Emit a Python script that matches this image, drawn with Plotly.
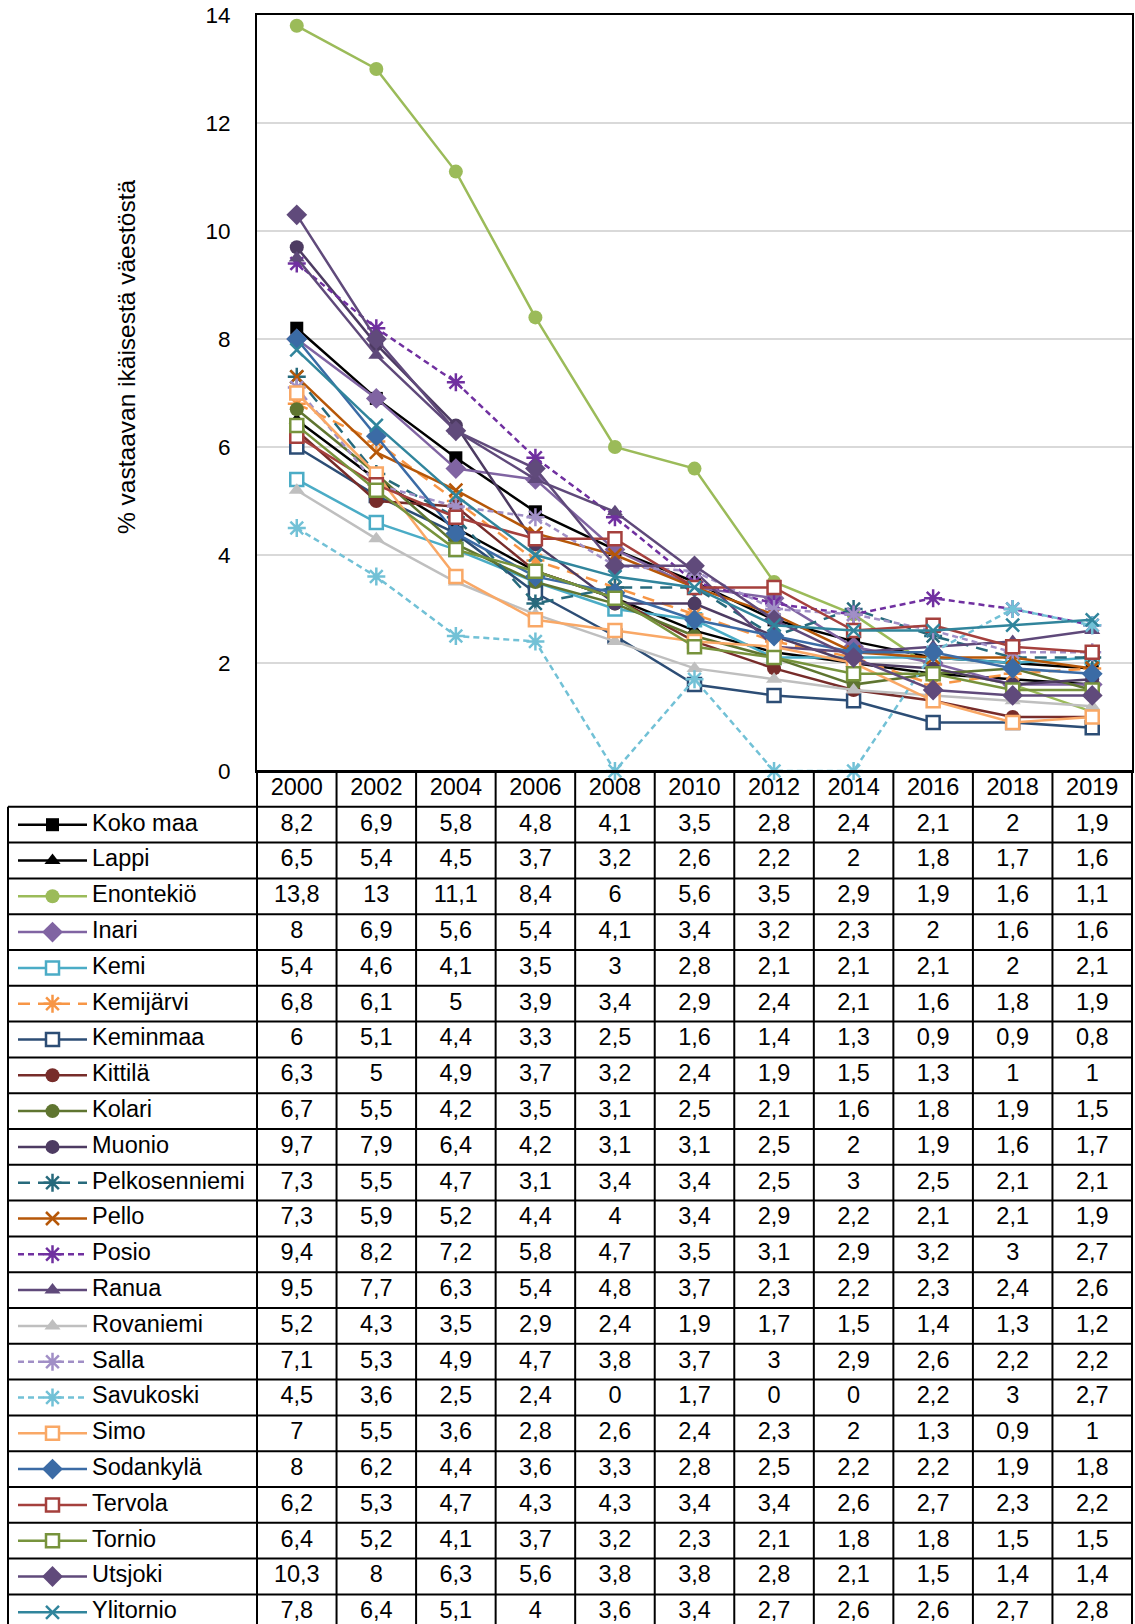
import plotly.graph_objects as go

years = ["2000", "2002", "2004", "2006", "2008", "2010", "2012", "2014", "2016", "2018", "2019"]

names = ["Koko maa", "Lappi", "Enontekiö", "Inari", "Kemi", "Kemijärvi", "Keminmaa", "Kittilä",
         "Kolari", "Muonio", "Pelkosenniemi", "Pello", "Posio", "Ranua", "Rovaniemi", "Salla",
         "Savukoski", "Simo", "Sodankylä", "Tervola", "Tornio", "Utsjoki", "Ylitornio"]

koko_maa = [8.2, 6.9, 5.8, 4.8, 4.1, 3.5, 2.8, 2.4, 2.1, 2, 1.9]
lappi = [6.5, 5.4, 4.5, 3.7, 3.2, 2.6, 2.2, 2, 1.8, 1.7, 1.6]
enontekio = [13.8, 13, 11.1, 8.4, 6, 5.6, 3.5, 2.9, 1.9, 1.6, 1.1]
inari = [8, 6.9, 5.6, 5.4, 4.1, 3.4, 3.2, 2.3, 2, 1.6, 1.6]
kemi = [5.4, 4.6, 4.1, 3.5, 3, 2.8, 2.1, 2.1, 2.1, 2, 2.1]
kemijarvi = [6.8, 6.1, 5, 3.9, 3.4, 2.9, 2.4, 2.1, 1.6, 1.8, 1.9]
keminmaa = [6, 5.1, 4.4, 3.3, 2.5, 1.6, 1.4, 1.3, 0.9, 0.9, 0.8]
kittila = [6.3, 5, 4.9, 3.7, 3.2, 2.4, 1.9, 1.5, 1.3, 1, 1]
kolari = [6.7, 5.5, 4.2, 3.5, 3.1, 2.5, 2.1, 1.6, 1.8, 1.9, 1.5]
muonio = [9.7, 7.9, 6.4, 4.2, 3.1, 3.1, 2.5, 2, 1.9, 1.6, 1.7]
pelkosenniemi = [7.3, 5.5, 4.7, 3.1, 3.4, 3.4, 2.5, 3, 2.5, 2.1, 2.1]
pello = [7.3, 5.9, 5.2, 4.4, 4, 3.4, 2.9, 2.2, 2.1, 2.1, 1.9]
posio = [9.4, 8.2, 7.2, 5.8, 4.7, 3.5, 3.1, 2.9, 3.2, 3, 2.7]
ranua = [9.5, 7.7, 6.3, 5.4, 4.8, 3.7, 2.3, 2.2, 2.3, 2.4, 2.6]
rovaniemi = [5.2, 4.3, 3.5, 2.9, 2.4, 1.9, 1.7, 1.5, 1.4, 1.3, 1.2]
salla = [7.1, 5.3, 4.9, 4.7, 3.8, 3.7, 3, 2.9, 2.6, 2.2, 2.2]
savukoski = [4.5, 3.6, 2.5, 2.4, 0, 1.7, 0, 0, 2.2, 3, 2.7]
simo = [7, 5.5, 3.6, 2.8, 2.6, 2.4, 2.3, 2, 1.3, 0.9, 1]
sodankyla = [8, 6.2, 4.4, 3.6, 3.3, 2.8, 2.5, 2.2, 2.2, 1.9, 1.8]
tervola = [6.2, 5.3, 4.7, 4.3, 4.3, 3.4, 3.4, 2.6, 2.7, 2.3, 2.2]
tornio = [6.4, 5.2, 4.1, 3.7, 3.2, 2.3, 2.1, 1.8, 1.8, 1.5, 1.5]
utsjoki = [10.3, 8, 6.3, 5.6, 3.8, 3.8, 2.8, 2.1, 1.5, 1.4, 1.4]
ylitornio = [7.8, 6.4, 5.1, 4, 3.6, 3.4, 2.7, 2.6, 2.6, 2.7, 2.8]

series = [koko_maa, lappi, enontekio, inari, kemi, kemijarvi, keminmaa, kittila, kolari, muonio,
          pelkosenniemi, pello, posio, ranua, rovaniemi, salla, savukoski, simo, sodankyla,
          tervola, tornio, utsjoki, ylitornio]

y_ticks = [0, 2, 4, 6, 8, 10, 12, 14]
y_title = "% vastaavan ikäisestä väestöstä"

# styles: (color, kind, marker size, dash)
LONG = "12px,8px"
SHORT = "6px,4px"
styles = [
    ("#000000", "square", 13, "solid"),
    ("#000000", "triangle-up", 14, "solid"),
    ("#9BBB59", "circle", 14, "solid"),
    ("#8064A2", "diamond", 16, "solid"),
    ("#4BACC6", "hollow-square", 13, "solid"),
    ("#F79646", "asterisk-open", 15, LONG),
    ("#2C4D75", "hollow-square", 13, "solid"),
    ("#772C2A", "circle", 14, "solid"),
    ("#5F7530", "circle", 14, "solid"),
    ("#4D3B62", "circle", 14, "solid"),
    ("#276A7C", "asterisk-open", 15, LONG),
    ("#B65708", "x-thin-open", 13, "solid"),
    ("#7030A0", "asterisk-open", 15, SHORT),
    ("#5F497A", "triangle-up", 14, "solid"),
    ("#BFBFBF", "triangle-up", 14, "solid"),
    ("#A18FC6", "asterisk-open", 15, SHORT),
    ("#72C1D6", "asterisk-open", 15, SHORT),
    ("#F9A866", "hollow-square", 13, "solid"),
    ("#3B6BA5", "diamond", 16, "solid"),
    ("#A5403D", "hollow-square", 13, "solid"),
    ("#77933C", "hollow-square", 13, "solid"),
    ("#604A7B", "diamond", 16, "solid"),
    ("#31859C", "x-thin-open", 13, "solid"),
]


def marker_for(col, kind, size):
    if kind == "hollow-square":
        return dict(symbol="square", size=size, color="white", line=dict(color=col, width=2.5))
    if kind.endswith("-open"):
        return dict(symbol=kind, size=size, color=col, line=dict(color=col, width=2.5))
    return dict(symbol=kind, size=size, color=col, line=dict(width=0))


VW, VH = 1135, 1624
FW, FH = VW, VH
FONT = "Liberation Sans, Arial, sans-serif"

# chart area in pixels
PL, PR, PT, PB = 257, 1132, 15, 771
U = (PR - PL) / len(years)
TL = 8
ROWH = 35.8
X2A, X2B = 4, VW
Y2A, Y2B = PB - 2, VH


def xp(p):
    return p / FW


def yp(p):
    return 1 - p / FH


def px2x(p):
    return -0.5 + (p - PL) / U


def px2y(p):
    return -1.5 + (p - PB) / ROWH


def fmt(v):
    return str(int(v)) if float(v).is_integer() else str(v).replace(".", ",")


fig = go.Figure()
xi = list(range(len(years)))

for name, vals, (col, kind, ms, dash) in zip(names, series, styles):
    fig.add_trace(go.Scatter(
        x=xi, y=vals, mode="lines+markers", name=name,
        line=dict(color=col, width=2.5, dash=dash),
        marker=marker_for(col, kind, ms),
        xaxis="x", yaxis="y", showlegend=False, hoverinfo="skip", cliponaxis=False,
    ))

for k, (name, (col, kind, ms, dash)) in enumerate(zip(names, styles)):
    fig.add_trace(go.Scatter(
        x=[px2x(18), px2x(87)], y=[k, k], mode="lines",
        line=dict(color=col, width=2.5, dash=dash),
        xaxis="x2", yaxis="y2", showlegend=False, hoverinfo="skip",
    ))
    fig.add_trace(go.Scatter(
        x=[px2x(52.5)], y=[k], mode="markers", marker=marker_for(col, kind, ms),
        xaxis="x2", yaxis="y2", showlegend=False, hoverinfo="skip", cliponaxis=False,
    ))

fig.add_trace(go.Scatter(
    x=[px2x(92)] * len(names), y=list(range(len(names))), mode="text",
    text=names, textposition="middle right",
    textfont=dict(family=FONT, size=23.5, color="black"),
    xaxis="x2", yaxis="y2", showlegend=False, hoverinfo="skip", cliponaxis=False,
))

fig.add_trace(go.Scatter(
    x=xi, y=[-1] * len(years), mode="text", text=years, textposition="middle center",
    textfont=dict(family=FONT, size=23.5, color="black"),
    xaxis="x2", yaxis="y2", showlegend=False, hoverinfo="skip",
))

cx, cy, ct = [], [], []
for k, vals in enumerate(series):
    for i, v in enumerate(vals):
        cx.append(i)
        cy.append(k)
        ct.append(fmt(v))
fig.add_trace(go.Scatter(
    x=cx, y=cy, mode="text", text=ct, textposition="middle center",
    textfont=dict(family=FONT, size=23.5, color="black"),
    xaxis="x2", yaxis="y2", showlegend=False, hoverinfo="skip",
))

shapes = []
bottom = px2y(VH + 20)
line = dict(color="black", width=2)
for k in range(len(names) + 1):
    y = -0.5 + k
    shapes.append(dict(type="line", xref="x2", yref="y2", x0=px2x(TL), x1=10.5, y0=y, y1=y, line=line))
for i in range(len(years) + 1):
    x = -0.5 + i
    shapes.append(dict(type="line", xref="x2", yref="y2", x0=x, x1=x, y0=-1.5, y1=bottom, line=line))
shapes.append(dict(type="line", xref="x2", yref="y2", x0=px2x(TL), x1=px2x(TL), y0=-0.5, y1=bottom, line=line))
shapes.append(dict(type="line", xref="x2", yref="y2", x0=-0.5, x1=10.5, y0=-1.5, y1=-1.5, line=line))

fig.update_layout(
    width=FW, height=FH, margin=dict(l=0, r=0, t=0, b=0, pad=0), autosize=False,
    paper_bgcolor="white", plot_bgcolor="rgba(0,0,0,0)",
    font=dict(family=FONT, size=22, color="black"),
    shapes=shapes,
    xaxis=dict(domain=[xp(PL), xp(PR)], range=[-0.5, 10.5], showticklabels=False, showgrid=False,
               zeroline=False, showline=True, mirror=True, linecolor="black", linewidth=2,
               ticks="", anchor="y", fixedrange=True, automargin=False),
    yaxis=dict(domain=[yp(PB), yp(PT)], range=[0, 14], tickvals=y_ticks,
               showgrid=True, gridcolor="#D9D9D9", gridwidth=2, zeroline=False,
               showline=True, mirror=True, linecolor="black", linewidth=2,
               ticks="", ticklabelstandoff=20, tickfont=dict(size=22.5, family=FONT),
               anchor="x", fixedrange=True, automargin=False),
    xaxis2=dict(domain=[xp(X2A), xp(X2B)], range=[px2x(X2A), px2x(X2B)], visible=False,
                anchor="y2", fixedrange=True, automargin=False),
    yaxis2=dict(domain=[yp(Y2B), yp(Y2A)], range=[px2y(Y2B), px2y(Y2A)], visible=False,
                anchor="x2", fixedrange=True, automargin=False),
    annotations=[dict(text=y_title, xref="paper", yref="paper", x=xp(126), y=yp(357),
                      textangle=-90, showarrow=False, xanchor="center", yanchor="middle",
                      font=dict(family=FONT, size=24.5, color="black"))],
)

fig.write_html(
    "out.html",
    config={"displayModeBar": False},
    post_script="document.body.style.margin='0';document.body.style.overflow='hidden';",
)
